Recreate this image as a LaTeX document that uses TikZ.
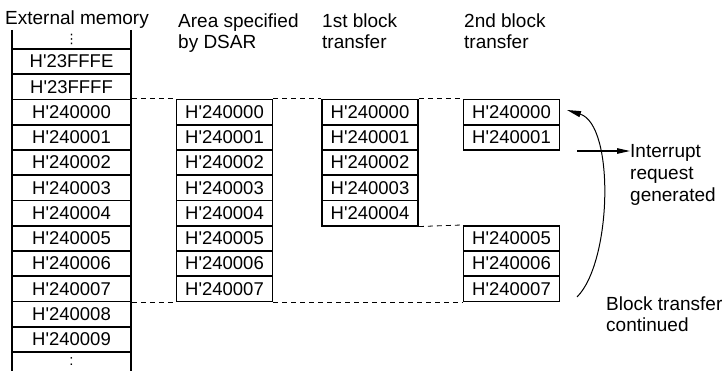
\documentclass[tikz,border=0pt]{standalone}
\usepackage{fontspec}
\newfontfamily\arial{Liberation Sans}
\newfontfamily\dejavu{DejaVu Sans}
\usetikzlibrary{arrows.meta}
\begin{document}
\begin{tikzpicture}[x=1pt,y=-1pt,
  lbl/.style={font=\arial\fontsize{19}{22}\selectfont, inner sep=0pt, anchor=base west},
  cellbox/.style={draw, line width=1.6pt, minimum height=25.25pt, minimum width=96pt,
    inner sep=0pt, font=\arial\fontsize{18.5}{21}\selectfont},
  extbox/.style={cellbox, minimum width=119pt},
  dotsbox/.style={inner sep=0pt, minimum width=119pt, minimum height=19pt},
  colline/.style={line width=1.6pt},
  guide/.style={dash pattern=on 5pt off 4pt, line width=0.8pt},
  arr/.style={line width=1.1pt, -{Triangle[length=13pt,width=5.5pt]}},
  curvearr/.style={line width=1pt, -{Triangle[length=14pt,width=6pt]}}]
\useasboundingbox (0,0) rectangle (722,371);

% headers
\node[lbl] (h1) at (5,24.3) {External memory};
\node[lbl] (h2a) at (178,27.3) {Area specified};
\node[lbl] (h2b) at (178,48.8) {by DSAR};
\node[lbl] (h3a) at (322,27.3) {1st block};
\node[lbl] (h3b) at (322,48.8) {transfer};
\node[lbl] (h4a) at (464,27.3) {2nd block};
\node[lbl] (h4b) at (464,48.8) {transfer};

% external memory column
\coordinate (etl) at (12,30);
\coordinate (ebl) at (12,371);
\coordinate (etr) at (131,30);
\coordinate (ebr) at (131,371);
\draw[colline] (etl) -- (ebl);
\draw[colline] (etr) -- (ebr);
\node[dotsbox, font=\dejavu\fontsize{13}{15}\selectfont] (eT) at (71.5,39.5) {⋮};
\node[extbox] (eA) at (71.5,61.625) {H'23FFFE};
\node[extbox] (eB) at (71.5,86.875) {H'23FFFF};
\foreach \i in {0,...,9}
  \node[extbox] (e\i) at (71.5,{99.5+25.25*(\i+0.5)}) {H'24000\i};
\node[dotsbox, font=\arial\fontsize{15}{18}\selectfont] (eU) at (71.5,361.5) {:};

% DSAR area
\foreach \i in {0,...,7}
  \node[cellbox] (d\i) at (224.5,{99.5+25.25*(\i+0.5)}) {H'24000\i};

% 1st block transfer
\foreach \i in {0,...,4}
  \node[cellbox] (f\i) at (370,{99.5+25.25*(\i+0.5)}) {H'24000\i};

% 2nd block transfer
\foreach \i in {0,1,5,6,7}
  \node[cellbox] (s\i) at (511.5,{99.5+25.25*(\i+0.5)}) {H'24000\i};

% dashed guide lines
\draw[guide] (e0.north east) -- (d0.north west);
\draw[guide] (d0.north east) -- (f0.north west);
\draw[guide] (f0.north east) -- (s0.north west);
\draw[guide] (f4.south east) -- (s5.north west);
\draw[guide] (e7.south east) -- (d7.south west);
\draw[guide] (d7.south east) -- (s7.south west);

% interrupt request
\node[lbl] (i1) at (630,157.3) {Interrupt};
\node[lbl] (i2) at (630,179.5) {request};
\node[lbl] (i3) at (630,201.7) {generated};
\coordinate (ia) at (577,151);
\draw[arr] (ia) -- (ia -| i1.west);

% block transfer continued
\node[lbl] (b1) at (606,310) {Block transfer};
\node[lbl] (b2) at (606,331.7) {continued};
\coordinate (cs) at (577,297);
\coordinate (ce) at (567,110);
\draw[curvearr] (cs) .. controls (612,262) and (615,125) .. (ce);
\end{tikzpicture}
\end{document}
